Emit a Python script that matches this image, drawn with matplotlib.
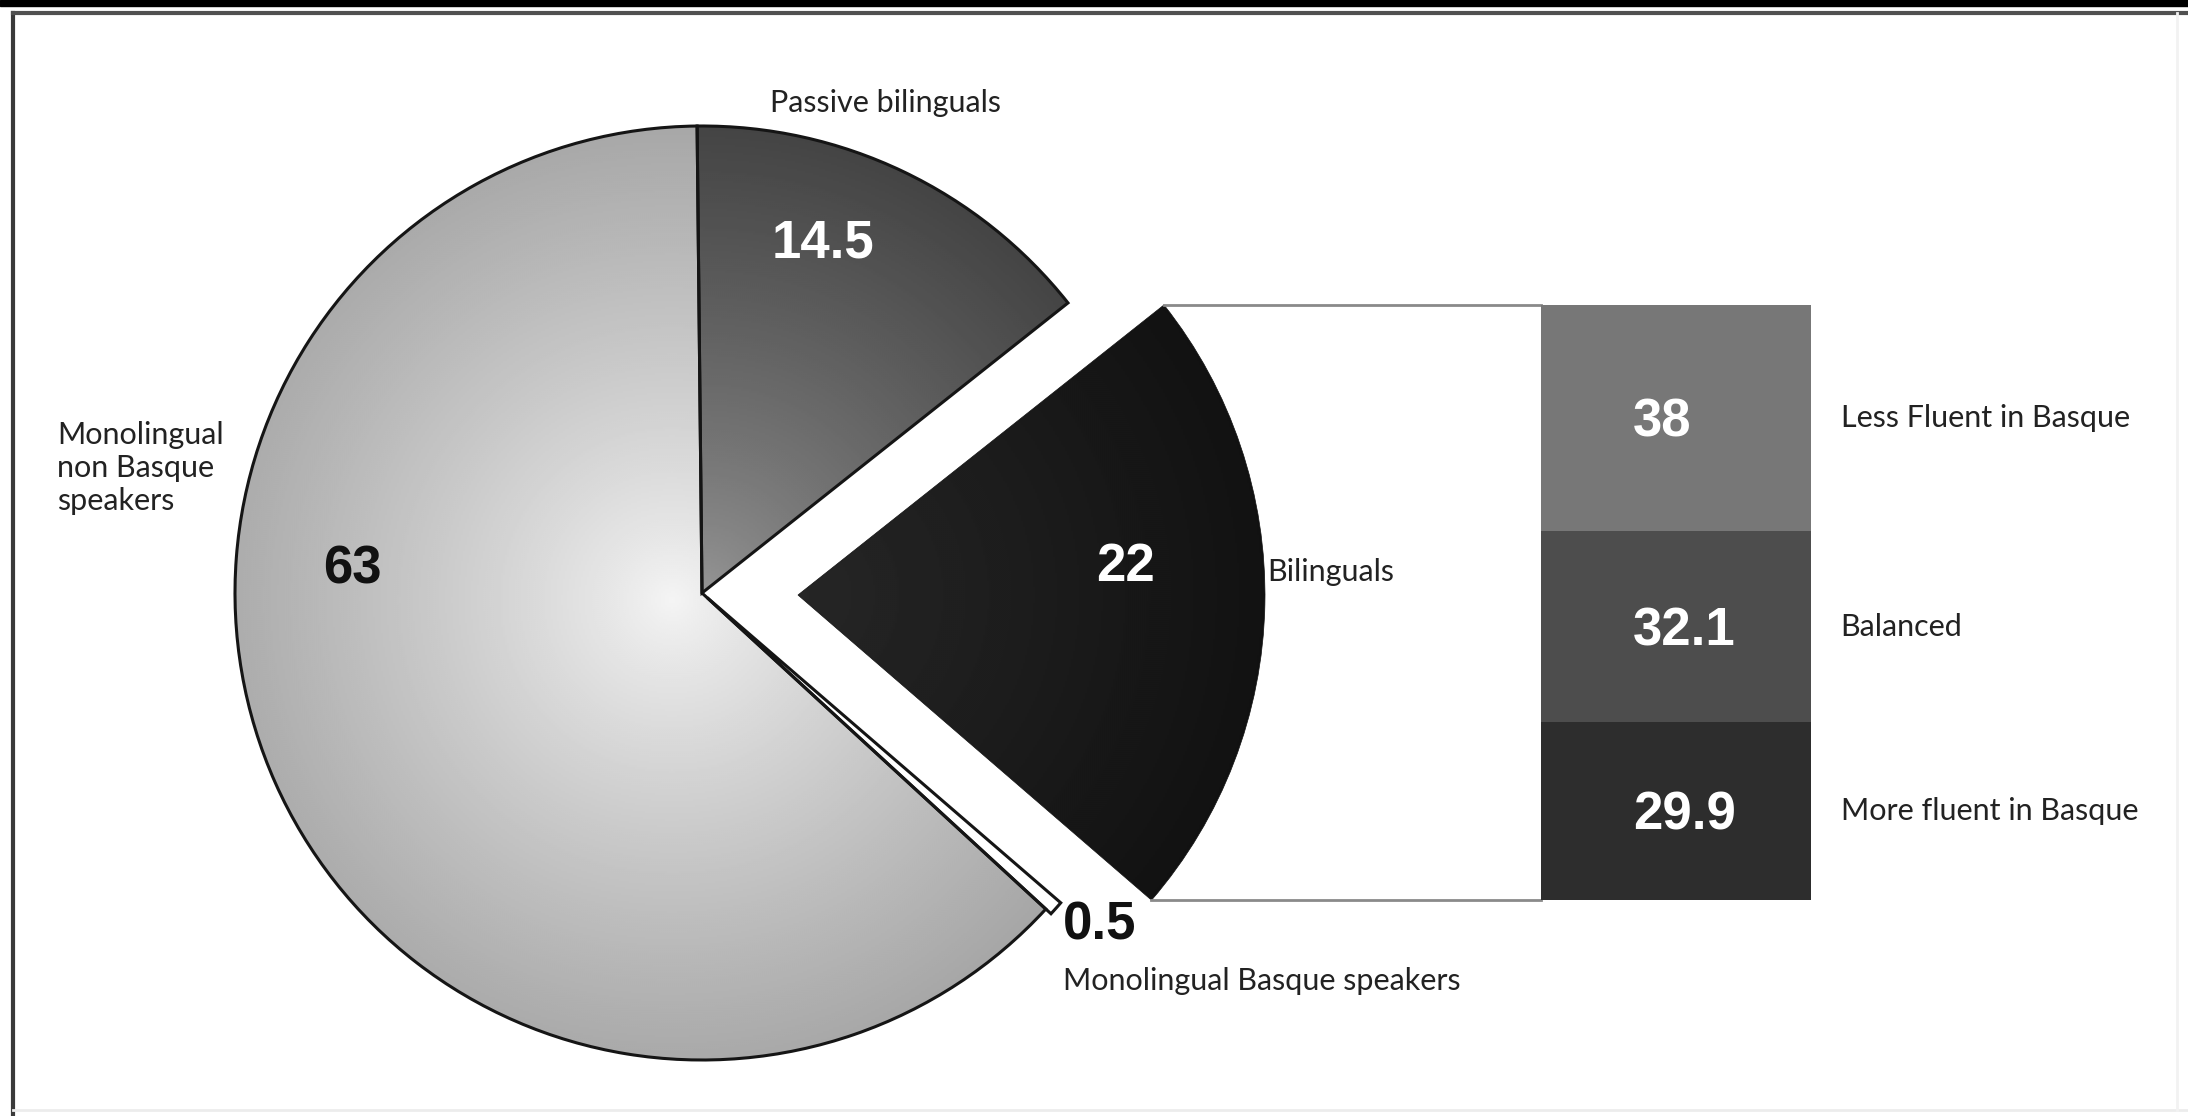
import numpy as np
import matplotlib
matplotlib.use("Agg")
import matplotlib.pyplot as plt
from matplotlib.patches import Rectangle
from matplotlib.lines import Line2D

# ---------------- data ----------------
pie_labels = ["Passive bilinguals", "Bilinguals", "Monolingual Basque speakers",
              "Monolingual\nnon Basque\nspeakers"]
pie_values = [14.5, 22, 0.5, 63]
bar_labels = ["Less Fluent in Basque", "Balanced", "More fluent in Basque"]
bar_values = [38, 32.1, 29.9]

W, H = 2188, 1116
LABEL_FONT = ["Lato", "DejaVu Sans"]
NUM_FONT = ["Liberation Sans", "DejaVu Sans"]

fig = plt.figure(figsize=(W / 100, H / 100), dpi=100)
ax = fig.add_axes([0, 0, 1, 1])

CX, CY, R = 702, 523, 467
wedges, _ = ax.pie(pie_values, startangle=90.6, counterclock=False,
                   explode=[0, 96, 7, 0], radius=R, center=(CX, CY),
                   frame=True, wedgeprops=dict(linewidth=2.2, edgecolor="#151515"))
ax.set_xlim(0, W)
ax.set_ylim(0, H)
ax.set_aspect("auto")
ax.axis("off")

# gradient fills clipped to wedges
gx = np.linspace(0, W, 1094)
gy = np.linspace(0, H, 558)
GX, GY = np.meshgrid(gx, gy)


def fill(wedge, focus, v0, v1, p):
    d = np.hypot(GX - focus[0], GY - focus[1]) / R
    img = np.clip(v0 - (v0 - v1) * np.clip(d, 0, 1.2) ** p, 0, 1)
    im = ax.imshow(img, extent=(0, W, 0, H), origin="lower", cmap="gray",
                   vmin=0, vmax=1, interpolation="bilinear", zorder=1,
                   aspect="auto")
    im.set_clip_path(wedge)
    wedge.set_facecolor("none")
    wedge.set_zorder(2)


w_pass, w_bil, w_mono_b, w_mono_nb = wedges
fill(w_mono_nb, (672, 516), 0.96, 0.66, 0.85)
fill(w_pass, (700, 520), 0.60, 0.27, 0.75)
fill(w_bil, (w_bil.center[0], w_bil.center[1]), 0.15, 0.07, 1.0)
w_bil.set_edgecolor("#111111")
w_bil.set_linewidth(0.5)
w_mono_b.set_facecolor("white")
w_mono_b.set_zorder(2)
ax.set_xlim(0, W)
ax.set_ylim(0, H)

# bilinguals wedge corners -> bar extent
bcx, bcy = w_bil.center
t_lo, t_hi = np.radians(min(w_bil.theta1, w_bil.theta2)), np.radians(max(w_bil.theta1, w_bil.theta2))
top_pt = (bcx + w_bil.r * np.cos(t_hi), bcy + w_bil.r * np.sin(t_hi))
bot_pt = (bcx + w_bil.r * np.cos(t_lo), bcy + w_bil.r * np.sin(t_lo))

BX0, BX1 = 1541, 1811
ax.add_line(Line2D([top_pt[0], BX0], [top_pt[1], top_pt[1]], color="#8a8a8a", lw=2, zorder=3))
ax.add_line(Line2D([bot_pt[0], BX0], [bot_pt[1], bot_pt[1]], color="#8a8a8a", lw=2, zorder=3))

# stacked bar in its own axes
bax = fig.add_axes([BX0 / W, bot_pt[1] / H, (BX1 - BX0) / W, (top_pt[1] - bot_pt[1]) / H])
bar_colors = ["#777777", "#4d4d4d", "#2d2d2d"]
total = sum(bar_values)
bottom = total
for lab, val, col in zip(bar_labels, bar_values, bar_colors):
    bottom -= val
    bax.bar(0.5, val, width=1.0, bottom=bottom, color=col, edgecolor="none")
    bax.text(0.34, bottom + val / 2 - 0.8, f"{val:g}", color="white", fontsize=38,
             fontweight="bold", family=NUM_FONT, ha="left", va="center")
    bax.text(1.11, bottom + val / 2, lab, color="#222222", fontsize=22,
             family=LABEL_FONT, ha="left", va="center", clip_on=False)
bax.set_xlim(0, 1)
bax.set_ylim(0, total)
bax.axis("off")

# pie value labels
num_kw = dict(fontsize=38, fontweight="bold", family=NUM_FONT, va="center")
ax.text(823, H - 243, f"{pie_values[0]:g}", color="white", ha="center", **num_kw)
ax.text(1126, H - 567, f"{pie_values[1]:g}", color="white", ha="center", **num_kw)
ax.text(1063, H - 925, f"{pie_values[2]:g}", color="#111111", ha="left", **num_kw)
ax.text(352, H - 569, f"{pie_values[3]:g}", color="#111111", ha="center", **num_kw)

# pie category labels
lab_kw = dict(fontsize=22, family=LABEL_FONT, color="#222222", va="center")
ax.text(770, H - 103, pie_labels[0], ha="left", **lab_kw)
ax.text(1267, H - 572, pie_labels[1], ha="left", **lab_kw)
ax.text(1063, H - 981, pie_labels[2], ha="left", **lab_kw)
ax.text(57, H - 468, pie_labels[3], ha="left", linespacing=1.2, **lab_kw)

# frame
fig.add_artist(Rectangle((0, 1 - 6 / H), 1, 6 / H, transform=fig.transFigure,
                         color="black", zorder=10))
fig.add_artist(Line2D([13 / W, 13 / W], [0, 1 - 13 / H], transform=fig.transFigure,
                      color="#3a3a3a", lw=3))
fig.add_artist(Line2D([13 / W, 1], [1 - 13 / H, 1 - 13 / H], transform=fig.transFigure,
                      color="#505050", lw=3))
fig.add_artist(Line2D([13 / W, 1], [6 / H, 6 / H], transform=fig.transFigure,
                      color="#ececec", lw=2))
fig.add_artist(Line2D([2177 / W, 2177 / W], [6 / H, 1 - 13 / H], transform=fig.transFigure,
                      color="#f2f2f2", lw=2))

fig.savefig("out.png", dpi=100)
